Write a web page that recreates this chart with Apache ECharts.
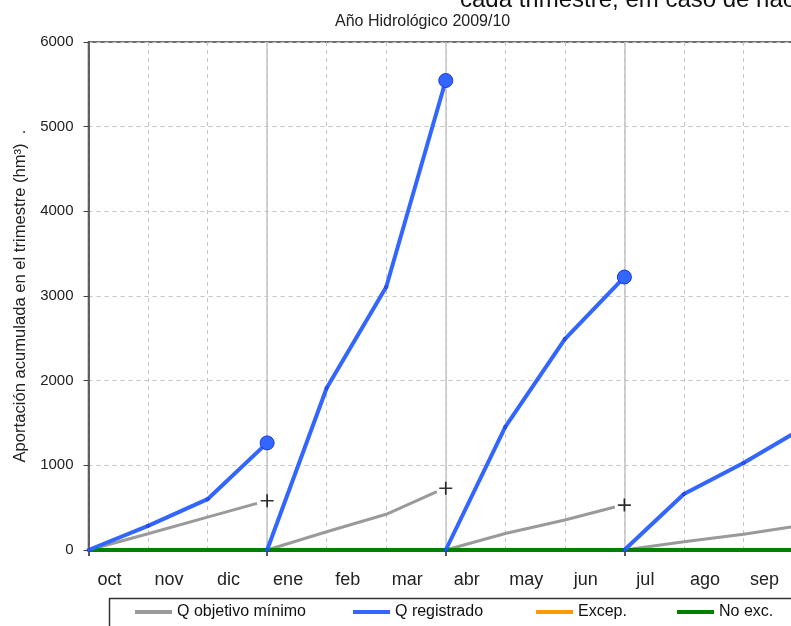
<!DOCTYPE html>
<html>
<head>
<meta charset="utf-8">
<script src="https://cdn.jsdelivr.net/npm/echarts@6/dist/echarts.min.js"></script>
<style>
  html, body { margin: 0; padding: 0; background: #ffffff; overflow: hidden; width: 791px; height: 626px; }
  /* the drawing surface runs a little past the right edge of the window */
  #chart { width: 830px; height: 626px; }
</style>
</head>
<body>
<div id="chart"></div>
<script>
// Month labels of the hydrological year (Oct → Sep)
const months = ['oct', 'nov', 'dic', 'ene', 'feb', 'mar', 'abr', 'may', 'jun', 'jul', 'ago', 'sep'];

// Recorded cumulative inflow per quarter [month position, hm³]
const regQ1 = [[0, 0], [1, 285], [2, 600], [3, 1265]];
const regQ2 = [[3, 0], [4, 1913], [5, 3106], [6, 5545]];
const regQ3 = [[6, 0], [7, 1453], [8, 2492], [9, 3224]];
const regQ4 = [[9, 0], [10, 661], [11, 1027], [12, 1440]];

// Minimum target cumulative inflow per quarter
const objQ1 = [[0, 0], [1, 192], [2, 388], [2.83, 551]];
const objQ2 = [[3, 0], [4, 216], [5, 422], [5.85, 689]];
const objQ3 = [[6, 0], [7, 195], [8, 355], [8.84, 508]];
const objQ4 = [[9, 0], [10, 98], [11, 185], [11.85, 278]];

// Quarter-end target values (cross markers)
const objEnd = [[3, 582], [6, 729], [9, 531], [12, 300]];

// Exceedance flags
const excep = [];
const noExc = [[0, 0], [12, 0]];

const yTicks = [0, 1000, 2000, 3000, 4000, 5000, 6000];

const FONT = '"Liberation Sans", Arial, sans-serif';
const BLUE = '#3366ff';
const GREY = '#9a9a9a';
const GREEN = '#008000';
const ORANGE = '#ff9900';

const chart = echarts.init(document.getElementById('chart'), null, { renderer: 'canvas' });

function regSeries(data) {
  return {
    name: 'Q registrado', type: 'line', data: data, z: 4,
    symbol: 'circle',
    symbolSize: (v, p) => (p.dataIndex === data.length - 1 ? 14 : 3),
    showAllSymbol: true,
    lineStyle: { color: BLUE, width: 4 },
    itemStyle: { color: BLUE, borderColor: '#1a36e6', borderWidth: 1 },
    emphasis: { disabled: true },
    animation: false
  };
}

function objSeries(data) {
  return {
    name: 'Q objetivo mínimo', type: 'line', data: data, z: 2,
    showSymbol: false,
    lineStyle: { color: GREY, width: 3 },
    itemStyle: { color: GREY },
    emphasis: { disabled: true },
    animation: false
  };
}

function legendFor(name, left) {
  return {
    data: [name], left: left, top: 604, padding: 0,
    icon: 'rect', itemWidth: 37, itemHeight: 4,
    itemStyle: { borderWidth: 0 },
    selectedMode: false,
    textStyle: { fontFamily: FONT, fontSize: 16, color: '#111' }
  };
}

const option = {
  backgroundColor: '#ffffff',
  animation: false,
  title: {
    text: 'Año Hidrológico 2009/10',
    left: 335, top: 14, padding: 0,
    textStyle: { fontFamily: FONT, fontSize: 16, fontWeight: 'normal', color: '#222' }
  },
  graphic: [
    {
      type: 'text', left: 460, top: -12, silent: true,
      style: { text: 'cada trimestre, em caso de não', font: '24px ' + FONT, fill: '#111' }
    },
    {
      type: 'rect', silent: true, z: 0,
      shape: { x: 109.5, y: 598.5, width: 800, height: 100 },
      style: { fill: 'none', stroke: '#333', lineWidth: 1.5 }
    }
  ],
  legend: [
    legendFor('Q objetivo mínimo', 135),
    legendFor('Q registrado', 353),
    legendFor('Excep.', 536),
    legendFor('No exc.', 677)
  ],
  grid: {
    left: 88.5, width: 714.5, top: 42, bottom: 76,
    show: true, backgroundColor: '#ffffff', borderColor: '#404040', borderWidth: 1.5
  },
  xAxis: [
    {
      type: 'value', min: 0, max: 12, interval: 1,
      axisLine: { show: false },
      axisTick: { show: false },
      splitLine: { show: true, lineStyle: { color: '#c4c4c4', width: 1, type: [4, 4] } },
      axisLabel: {
        margin: 21, fontFamily: FONT, fontSize: 18, color: '#222',
        padding: [0, 0, 0, 42],
        formatter: v => (v < months.length ? months[v] : '')
      }
    },
    {
      type: 'value', min: 0, max: 12, interval: 3, position: 'bottom',
      axisLine: { show: false },
      axisTick: { show: true, length: 6, lineStyle: { color: '#222', width: 1.5 } },
      axisLabel: { show: false },
      splitLine: { show: true, lineStyle: { color: '#c4c4c4', width: 1.5, type: 'solid' } }
    }
  ],
  yAxis: {
    type: 'value', min: yTicks[0], max: yTicks[yTicks.length - 1], interval: 1000,
    name: 'Aportación acumulada en el trimestre (hm³)  .',
    nameLocation: 'middle', nameRotate: 90, nameGap: 60,
    nameTextStyle: { fontFamily: FONT, fontSize: 16.6, color: '#222' },
    axisLine: { show: true, lineStyle: { color: '#404040', width: 1.5 } },
    axisTick: { show: true, length: 5, lineStyle: { color: '#404040' } },
    axisLabel: { margin: 15, fontFamily: FONT, fontSize: 15, color: '#222', formatter: v => String(v) },
    splitLine: { show: true, lineStyle: { color: '#c4c4c4', width: 1, type: [4, 4] } }
  },
  series: [
    objSeries(objQ1), objSeries(objQ2), objSeries(objQ3), objSeries(objQ4),
    {
      name: 'objEnd', type: 'scatter', data: objEnd, z: 6,
      symbol: 'path://M6.1,0H7.9V6.1H14V7.9H7.9V14H6.1V7.9H0V6.1H6.1Z',
      symbolSize: 13,
      itemStyle: { color: '#000' },
      emphasis: { disabled: true }
    },
    {
      name: 'Excep.', type: 'line', data: excep, z: 3,
      showSymbol: false,
      lineStyle: { color: ORANGE, width: 4 }, itemStyle: { color: ORANGE }
    },
    {
      name: 'No exc.', type: 'line', data: noExc, z: 3,
      showSymbol: false,
      lineStyle: { color: GREEN, width: 4 }, itemStyle: { color: GREEN },
      emphasis: { disabled: true }
    },
    regSeries(regQ1), regSeries(regQ2), regSeries(regQ3), regSeries(regQ4)
  ]
};

chart.setOption(option);
</script>
</body>
</html>
